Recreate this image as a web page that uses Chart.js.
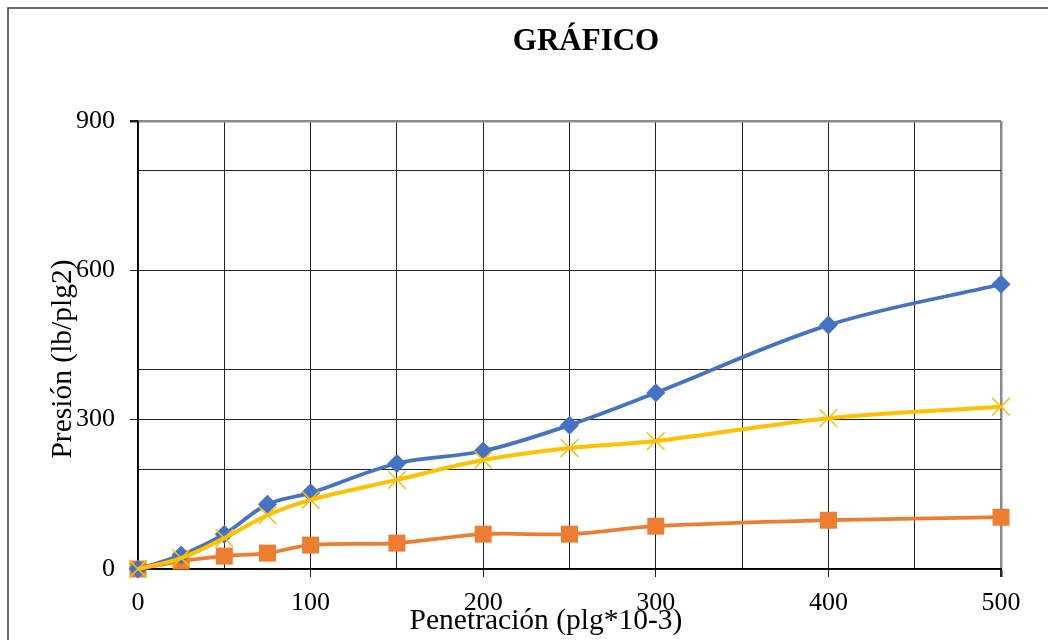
<!DOCTYPE html>
<html>
<head>
<meta charset="utf-8">
<title>GRÁFICO</title>
<script src="https://cdn.jsdelivr.net/npm/chart.js@4/dist/chart.umd.min.js"></script>
<style>
  html, body { margin: 0; padding: 0; background: #fff; }
  canvas { display: block; }
</style>
</head>
<body>
<canvas id="c" width="1048" height="640"></canvas>
<script>
// Penetration readings (plg*10-3)
const penetracion = [0, 25, 50, 75, 100, 150, 200, 250, 300, 400, 500];
// Pressure curves (lb/plg2)
const presionAzul = [0, 28, 70, 130, 153, 212, 237, 289, 354, 490, 572];
const presionNaranja = [0, 16, 26, 32, 48, 52, 70, 70, 86, 98, 104];
const presionAmarilla = [0, 22, 62, 108, 139, 179, 219, 243, 257, 303, 326];
// Axis tick positions
const xTicks = [0, 50, 100, 150, 200, 250, 300, 350, 400, 450, 500];
const yTicks = [0, 200, 300, 400, 600, 800, 900];
const yLabels = [0, 300, 600, 900];

const SERIF = '"Liberation Serif", "Times New Roman", serif';

function toPoints(ys) {
  return penetracion.map((x, i) => ({ x: x, y: ys[i] }));
}

// Outer frame and axis titles
const decor = {
  id: 'decor',
  beforeDraw(chart) {
    const ctx = chart.ctx;
    ctx.save();
    ctx.strokeStyle = '#3a3a3a';
    ctx.lineWidth = 1.5;
    ctx.beginPath();
    ctx.moveTo(8, 660);
    ctx.lineTo(8, 8);
    ctx.lineTo(1060, 8);
    ctx.stroke();
    ctx.restore();
  },
  afterDraw(chart) {
    const ctx = chart.ctx;
    ctx.save();
    ctx.fillStyle = '#000';
    ctx.textAlign = 'center';
    ctx.textBaseline = 'middle';
    ctx.font = 'bold 31px ' + SERIF;
    ctx.fillText('GRÁFICO', 586, 42);
    ctx.font = '29.5px ' + SERIF;
    ctx.fillText('Penetración (plg*10-3)', 546, 621);
    ctx.translate(63, 359);
    ctx.rotate(-Math.PI / 2);
    ctx.fillText('Presión (lb/plg2)', 0, 0);
    ctx.restore();
  }
};

new Chart(document.getElementById('c'), {
  type: 'line',
  data: {
    datasets: [
      {
        data: toPoints(presionAzul),
        borderColor: '#4472C4',
        backgroundColor: '#4472C4',
        borderWidth: 3.75,
        pointStyle: 'rectRot',
        pointRadius: 9.5,
        pointBorderWidth: 0,
        tension: 0.35,
        clip: false,
        order: 1
      },
      {
        data: toPoints(presionNaranja),
        borderColor: '#ED7D31',
        backgroundColor: '#ED7D31',
        borderWidth: 3.75,
        pointStyle: 'rect',
        pointRadius: 12,
        pointBorderWidth: 0,
        tension: 0.35,
        clip: false,
        order: 2
      },
      {
        data: toPoints(presionAmarilla),
        borderColor: '#FFC000',
        backgroundColor: '#FFC000',
        borderWidth: 4,
        pointStyle: 'crossRot',
        pointRadius: 12.5,
        pointBorderWidth: 1.5,
        tension: 0.35,
        clip: false,
        order: 0
      }
    ]
  },
  options: {
    responsive: false,
    animation: false,
    events: [],
    layout: { padding: { left: 0, right: 47, top: 121, bottom: 0 } },
    plugins: {
      legend: { display: false },
      title: { display: false },
      tooltip: { enabled: false }
    },
    scales: {
      x: {
        type: 'linear',
        min: 0,
        max: 500,
        afterBuildTicks(scale) { scale.ticks = xTicks.map(v => ({ value: v })); },
        afterFit(scale) { scale.height = 71; },
        border: { display: true, color: '#000', width: 1.5 },
        grid: {
          drawOnChartArea: true,
          color: c => (c.tick && c.tick.value === 500) ? '#8a8a8a' : '#222',
          lineWidth: c => (c.tick && c.tick.value === 500) ? 2.5 : 1,
          tickColor: c => (c.tick && c.tick.value % 100 === 0) ? '#222' : 'rgba(0,0,0,0)',
          tickLength: 8
        },
        ticks: {
          autoSkip: false,
          maxRotation: 0,
          padding: 11,
          color: '#000',
          font: { family: SERIF, size: 26 },
          callback: v => (v % 100 === 0 ? String(v) : '')
        }
      },
      y: {
        type: 'linear',
        min: 0,
        max: 900,
        afterBuildTicks(scale) { scale.ticks = yTicks.map(v => ({ value: v })); },
        afterFit(scale) { scale.width = 138; },
        border: { display: true, color: '#000', width: 1.5 },
        grid: {
          drawOnChartArea: true,
          color: c => (c.tick && c.tick.value === 900) ? '#8a8a8a' : '#222',
          lineWidth: c => (c.tick && c.tick.value === 900) ? 2.5 : 1,
          tickColor: c => (c.tick && yLabels.includes(c.tick.value)) ? '#222' : 'rgba(0,0,0,0)',
          tickLength: 8
        },
        ticks: {
          autoSkip: false,
          padding: 15,
          color: '#000',
          font: { family: SERIF, size: 26 },
          callback: v => (yLabels.includes(v) ? String(v) : '')
        }
      }
    }
  },
  plugins: [decor]
});
</script>
</body>
</html>
